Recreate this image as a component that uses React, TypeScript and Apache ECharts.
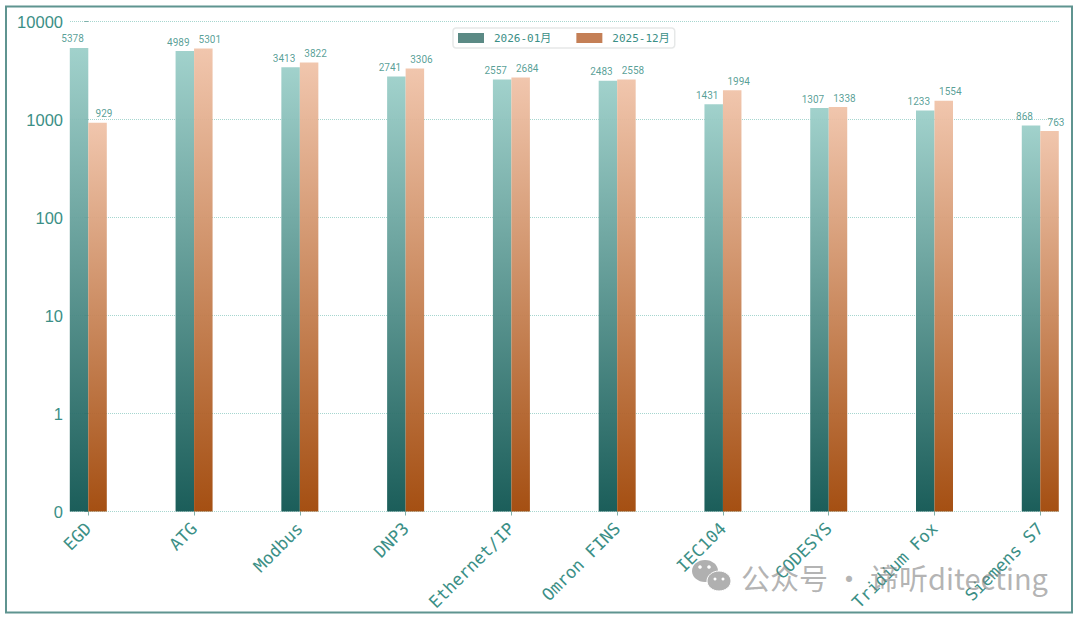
import React, { useEffect, useRef } from "react";
import * as echarts from "echarts";

const categories = ["EGD", "ATG", "Modbus", "DNP3", "Ethernet/IP", "Omron FINS", "IEC104", "CODESYS", "Tridium Fox", "Siemens S7"];
const jan2026 = [5378, 4989, 3413, 2741, 2557, 2483, 1431, 1307, 1233, 868];
const dec2025 = [929, 5301, 3822, 3306, 2684, 2558, 1994, 1338, 1554, 763];
const seriesNames = ["2026-01月", "2025-12月"];
const yTickLabels = ["0", "1", "10", "100", "1000", "10000"];
const tickPositions = categories.map((_, i) => i);

const TEXT = "#3b8f86";
const MONO = '"DejaVu Sans Mono", "Noto Sans CJK SC", monospace';

// The axis is logarithmic with a "0" decade at its foot, so bars stand on the bottom of the plot.
const toAxis = (v: number) => Math.log10(v) + 1;

function grad(top: string, bottom: string) {
  return new echarts.graphic.LinearGradient(0, 0, 0, 1, [
    { offset: 0, color: top },
    { offset: 1, color: bottom },
  ]);
}

export default function App() {
  const ref = useRef<HTMLDivElement>(null);
  useEffect(() => {
    const chart = echarts.init(ref.current!, null, { renderer: "svg" });
    const makeSeries = (name: string, values: number[], top: string, bottom: string, dx: number) => ({
      name,
      type: "bar" as const,
      barWidth: 18.5,
      barGap: "0%",
      data: values.map((v, i) => [i, toAxis(v), v]),
      encode: { x: 0, y: 1 },
      itemStyle: { color: grad(top, bottom), borderWidth: 0, opacity: 0.95 },
      label: {
        show: true,
        position: "top" as const,
        distance: 4,
        offset: [dx, 0],
        color: "#4f9a91",
        fontFamily: "Roboto, sans-serif",
        fontSize: 10,
        formatter: (p: any) => String(p.value[2]),
      },
    });
    chart.setOption({
      animation: false,
      backgroundColor: "#ffffff",
      legend: {
        top: 28,
        left: 453,
        padding: [4.5, 5, 4.5, 5],
        itemGap: 25,
        itemWidth: 26,
        itemHeight: 10,
        icon: "rect",
        borderColor: "#e6e8e8",
        borderWidth: 1.5,
        borderRadius: 3,
        textStyle: { color: TEXT, fontFamily: MONO, fontSize: 11, padding: [0, 0, 0, 5] },
        data: [
          { name: seriesNames[0], itemStyle: { color: "#5b8a85", opacity: 1 } },
          { name: seriesNames[1], itemStyle: { color: "#c47f56", opacity: 1 } },
        ],
      },
      grid: { left: 70, right: 21, top: 21.5, bottom: 107.5 },
      xAxis: {
        type: "value",
        min: -0.173,
        max: 9.177,
        splitLine: { show: false },
        axisLine: { show: false },
        axisTick: { show: true, length: 4, customValues: tickPositions, lineStyle: { color: "#7fb0aa" } },
        axisLabel: {
          rotate: 45,
          margin: 14,
          padding: [0, 0, 8, 0],
          customValues: tickPositions,
          color: TEXT,
          fontFamily: MONO,
          fontSize: 17,
          formatter: (v: number) => categories[Math.round(v)] ?? "",
        },
      },
      yAxis: {
        type: "value",
        min: 0,
        max: 5,
        interval: 1,
        axisLine: { show: false },
        axisTick: { show: true, length: 4, lineStyle: { color: "#7fb0aa" } },
        axisLabel: {
          margin: 7,
          color: TEXT,
          fontFamily: '"Liberation Sans", sans-serif',
          fontSize: 16.5,
          formatter: (v: number) => yTickLabels[Math.round(v)] ?? "",
        },
        splitLine: { show: true, lineStyle: { type: "dotted", width: 1, color: "#a6d6cf" } },
      },
      series: [
        makeSeries(seriesNames[0], jan2026, "#9ccfc9", "#0f5551", -6.5),
        makeSeries(seriesNames[1], dec2025, "#f0c3a9", "#a04606", 6.5),
      ],
      graphic: [
        {
          type: "rect",
          silent: true,
          z: 50,
          shape: { x: 6, y: 6.5, width: 1066, height: 606 },
          style: { fill: "none", stroke: "#5f9490", lineWidth: 2 },
        },
        { type: "ellipse", z: 60, silent: true, shape: { cx: 705, cy: 571, rx: 13, ry: 11 }, style: { fill: "#b0b0b0" } },
        { type: "ellipse", z: 61, silent: true, shape: { cx: 719, cy: 581, rx: 12, ry: 10 }, style: { fill: "#b0b0b0", stroke: "#ffffff", lineWidth: 1 } },
        { type: "circle", z: 62, silent: true, shape: { cx: 700, cy: 567, r: 1.8 }, style: { fill: "#ffffff" } },
        { type: "circle", z: 62, silent: true, shape: { cx: 709, cy: 567, r: 1.8 }, style: { fill: "#ffffff" } },
        { type: "circle", z: 62, silent: true, shape: { cx: 715, cy: 579, r: 1.5 }, style: { fill: "#ffffff" } },
        { type: "circle", z: 62, silent: true, shape: { cx: 723, cy: 579, r: 1.5 }, style: { fill: "#ffffff" } },
        {
          type: "text",
          z: 60,
          silent: true,
          x: 741,
          y: 577,
          style: {
            text: "公众号 · 谛听ditecting",
            fill: "rgba(130,130,130,0.6)",
            fontFamily: '"Noto Sans CJK SC", sans-serif',
            fontSize: 29,
            textVerticalAlign: "middle",
          },
        },
      ],
    });
    return () => chart.dispose();
  }, []);
  return <div ref={ref} style={{ position: "fixed", left: 0, top: 0, width: 1080, height: 619 }} />;
}
